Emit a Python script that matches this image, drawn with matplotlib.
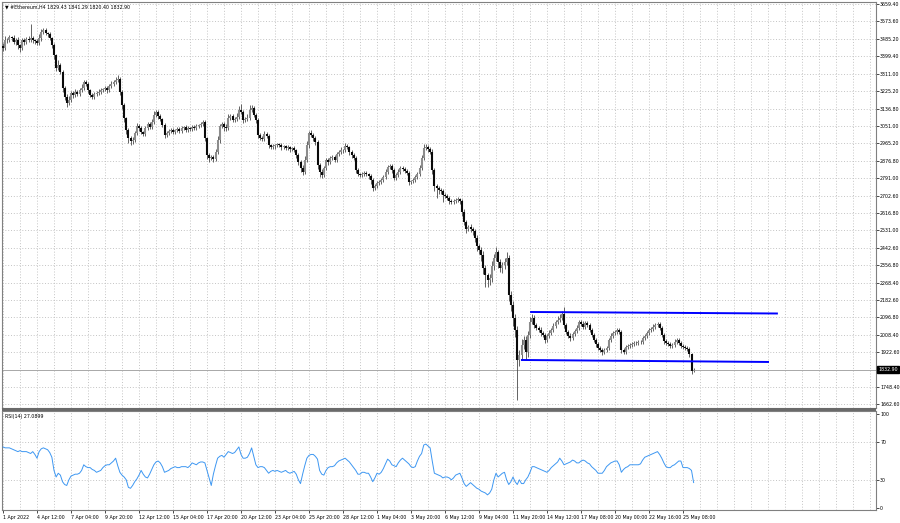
import matplotlib
matplotlib.use("Agg")
import matplotlib.pyplot as plt
from matplotlib.patches import Rectangle

# ETH H4 candles, one value per bar (open = previous close)
first_open = 3450.0
close = [
    3439, 3479, 3479, 3494, 3489, 3469, 3479, 3454, 3439, 3479,
    3469, 3484, 3479, 3489, 3479, 3474, 3464, 3489, 3519, 3529,
    3514, 3509, 3489, 3454, 3404, 3340, 3355, 3320, 3240, 3195,
    3165, 3180, 3215, 3205, 3220, 3210, 3230, 3240, 3270, 3260,
    3230, 3205, 3195, 3210, 3215, 3220, 3230, 3235, 3240, 3230,
    3250, 3260, 3270, 3280, 3285, 3220, 3155, 3090, 3030, 2990,
    2975, 2980, 3015, 3050, 3040, 3020, 3010, 3040, 3060, 3045,
    3070, 3105, 3120, 3100, 3085, 3055, 3005, 3015, 3025, 3030,
    3020, 3030, 3035, 3025, 3040, 3045, 3030, 3040, 3035, 3045,
    3040, 3050, 3055, 3060, 3070, 2990, 2905, 2891, 2896, 2886,
    2920, 2980, 3050, 3060, 3045, 3040, 3090, 3100, 3080, 3085,
    3095, 3130, 3120, 3080, 3085, 3090, 3130, 3140, 3105, 3080,
    3005, 2990, 2985, 3010, 3000, 2955, 2945, 2950, 2955, 2960,
    2955, 2945, 2950, 2940, 2945, 2935, 2940, 2930, 2905, 2870,
    2840, 2820, 2880, 2955, 3015, 3005, 2990, 2970, 2856, 2821,
    2806, 2841, 2881, 2871, 2891, 2896, 2881, 2911, 2920, 2930,
    2930, 2950, 2945, 2920, 2905, 2891, 2831, 2811, 2806, 2811,
    2816, 2811, 2801, 2781, 2741, 2751, 2766, 2771, 2781, 2796,
    2821, 2846, 2851, 2831, 2791, 2806, 2821, 2841, 2836, 2826,
    2816, 2771, 2776, 2781, 2796, 2811, 2841, 2891, 2940, 2945,
    2935, 2920, 2831, 2751, 2741, 2731, 2726, 2706, 2701, 2691,
    2676, 2671, 2676, 2681, 2686, 2676, 2621, 2571, 2536, 2546,
    2536, 2526, 2491, 2451, 2431, 2406, 2342, 2307, 2282, 2292,
    2352, 2392, 2421, 2372, 2342, 2357, 2372, 2392, 2207, 2157,
    2092, 2032, 1883, 1908, 1958, 1982, 1923, 2007, 2072, 2092,
    2057, 2042, 2032, 2017, 2007, 1982, 2002, 2017, 2032, 2052,
    2072, 2082, 2092, 2112, 2057, 2022, 2002, 1992, 2012, 2027,
    2042, 2072, 2062, 2047, 2067, 2057, 2032, 2007, 1982, 1962,
    1942, 1932, 1923, 1932, 1942, 1982, 2002, 2017, 2022, 2032,
    2022, 1932, 1922, 1947, 1952, 1957, 1962, 1967, 1967, 1972,
    1972, 1992, 2002, 2017, 2032, 2037, 2047, 2057, 2062, 2042,
    2007, 1977, 1967, 1962, 1952, 1957, 1972, 1982, 1967, 1952,
    1947, 1942, 1937, 1910, 1829.43, 1832.90,
]
upper_wick = [
    15, 20, 10, 12, 8, 18, 10, 14, 6, 12,
    10, 9, 15, 70, 12, 8, 10, 20, 14, 10,
    12, 8, 10, 6, 12, 8, 25, 10, 8, 12,
    15, 20, 10, 12, 14, 8, 10, 20, 12, 10,
    8, 6, 12, 10, 8, 14, 10, 6, 12, 8,
    10, 14, 10, 16, 20, 8, 12, 10, 6, 8,
    10, 14, 12, 16, 8, 10, 6, 12, 10, 8,
    14, 18, 12, 8, 10, 6, 8, 12, 10, 8,
    10, 6, 12, 8, 10, 6, 8, 10, 6, 8,
    10, 8, 6, 12, 10, 8, 6, 10, 12, 8,
    14, 18, 12, 10, 8, 16, 20, 12, 10, 8,
    18, 22, 30, 10, 8, 20, 25, 15, 10, 8,
    10, 12, 8, 14, 10, 8, 6, 10, 8, 6,
    8, 10, 6, 8, 10, 6, 8, 10, 8, 12,
    10, 14, 20, 18, 12, 14, 10, 8, 12, 10,
    14, 12, 10, 8, 12, 10, 8, 12, 10, 14,
    8, 16, 10, 8, 10, 12, 8, 10, 6, 8,
    10, 8, 6, 10, 12, 8, 10, 8, 12, 10,
    14, 12, 10, 8, 10, 12, 14, 10, 8, 10,
    8, 10, 6, 8, 10, 12, 16, 14, 20, 18,
    12, 10, 14, 10, 8, 12, 10, 8, 12, 10,
    8, 10, 12, 8, 10, 6, 10, 14, 12, 10,
    16, 12, 10, 14, 12, 16, 20, 14, 12, 18,
    22, 20, 25, 12, 14, 16, 20, 30, 15, 20,
    18, 22, 20, 25, 30, 20, 22, 18, 25, 20,
    15, 12, 10, 14, 12, 10, 12, 14, 10, 15,
    12, 18, 20, 15, 35, 12, 10, 14, 12, 10,
    15, 12, 10, 14, 12, 10, 8, 10, 12, 8,
    10, 12, 8, 10, 12, 10, 14, 10, 8, 12,
    10, 8, 12, 10, 8, 10, 8, 10, 12, 8,
    10, 12, 10, 8, 12, 10, 14, 10, 12, 8,
    10, 12, 10, 8, 12, 10, 14, 10, 8, 10,
    12, 10, 8, 10, 8, 8.39,
]
lower_wick = [
    12, 10, 15, 8, 14, 10, 12, 18, 20, 8,
    12, 10, 8, 10, 14, 12, 10, 8, 12, 10,
    8, 14, 10, 12, 18, 15, 10, 12, 20, 15,
    18, 12, 10, 14, 8, 12, 10, 8, 12, 10,
    14, 12, 10, 8, 12, 10, 8, 12, 10, 14,
    8, 10, 12, 8, 10, 15, 20, 18, 22, 25,
    20, 15, 10, 12, 14, 10, 12, 8, 10, 12,
    8, 10, 12, 14, 10, 12, 15, 10, 8, 12,
    10, 8, 12, 10, 8, 10, 12, 8, 10, 8,
    12, 8, 10, 8, 12, 15, 18, 20, 12, 15,
    10, 8, 12, 10, 20, 14, 10, 8, 12, 10,
    8, 10, 12, 14, 10, 12, 8, 10, 12, 14,
    15, 12, 10, 8, 12, 14, 10, 8, 12, 10,
    8, 12, 10, 8, 10, 12, 8, 10, 14, 15,
    18, 12, 10, 8, 12, 10, 14, 12, 20, 25,
    15, 10, 12, 14, 10, 8, 12, 10, 8, 10,
    12, 8, 10, 12, 14, 10, 15, 12, 10, 8,
    10, 12, 14, 18, 15, 12, 10, 8, 12, 10,
    8, 10, 12, 14, 10, 8, 10, 12, 8, 10,
    12, 14, 10, 8, 10, 8, 10, 12, 10, 8,
    12, 10, 20, 25, 50, 18, 15, 35, 12, 10,
    14, 12, 10, 8, 12, 14, 18, 15, 20, 12,
    15, 18, 20, 25, 22, 30, 28, 60, 35, 25,
    20, 18, 15, 30, 20, 25, 18, 15, 30, 30,
    40, 35, 200, 30, 25, 20, 40, 25, 15, 12,
    14, 12, 10, 15, 12, 14, 10, 12, 10, 8,
    10, 12, 8, 10, 14, 12, 10, 15, 12, 10,
    8, 10, 12, 10, 8, 12, 10, 8, 12, 14,
    12, 10, 15, 12, 10, 8, 10, 12, 10, 8,
    10, 14, 12, 10, 8, 10, 12, 10, 8, 10,
    8, 10, 12, 10, 8, 10, 12, 8, 10, 12,
    10, 14, 12, 10, 8, 10, 12, 10, 12, 10,
    10, 12, 10, 14, 18, 9.03,
]
rsi = [
    65, 64, 64, 64, 63, 62, 61, 60, 61, 60,
    60, 60, 59, 58, 60, 57, 53, 60, 63, 64,
    63, 62, 59, 54, 40, 33, 37, 35, 28, 25,
    24, 30, 34, 35, 36, 36, 37, 40, 46, 44,
    43, 43, 41, 40, 38, 39, 40, 43, 45, 46,
    46, 48, 50, 53, 45, 38, 35, 33, 30, 22,
    21, 24, 28, 31, 35, 40, 36, 33, 32, 36,
    41, 46, 49, 50, 48, 44, 38, 39, 40, 42,
    43, 44, 43, 43, 44, 44, 44, 43, 45, 48,
    47, 46, 48, 49, 49, 48, 40, 32, 24, 36,
    45, 53, 55, 56, 54, 57, 60, 59, 58, 59,
    62, 65, 57, 53, 53, 54, 58, 64, 55, 46,
    43, 44, 44, 43, 40, 37, 39, 40, 39, 40,
    39, 38, 39, 40, 38, 37, 38, 39, 36, 30,
    26, 36, 45, 53, 56, 57, 57, 55, 52, 40,
    36, 35, 40, 43, 44, 44, 45, 48, 50, 51,
    52, 53, 51, 49, 46, 43, 40, 36, 36, 38,
    38, 37, 37, 33, 28, 32, 37, 36, 38, 42,
    47, 52, 50, 46, 45, 44, 48, 51, 53, 51,
    49, 47, 44, 43, 44, 50, 55, 58, 67, 68,
    66, 64, 50, 37, 36, 35, 34, 32, 33, 33,
    32, 30, 32, 35, 36, 37, 32, 26, 23, 25,
    27, 25, 23, 21, 20, 18, 17, 16, 14, 16,
    20, 30, 37, 33, 35, 37, 38, 30, 25, 28,
    33, 28, 25, 30, 26, 26, 30, 33, 38, 44,
    44, 43, 42, 41, 40, 39, 38, 40, 43, 45,
    47, 49, 53, 50, 46, 47, 48, 49, 51, 50,
    48, 48, 50, 51, 50, 48, 47, 44, 42, 40,
    37, 37, 37, 40, 44, 46, 48, 49, 50, 50,
    46, 38, 41, 43, 44, 46, 46, 46, 46, 46,
    47, 51, 54, 55, 56, 57, 58, 59, 60, 57,
    53, 48, 44, 43, 43, 45, 46, 48, 50, 50,
    43, 43, 43, 42, 40, 27.0899,
]

price_levels = [3659.40, 3573.60, 3485.20, 3399.40, 3311.00, 3225.20, 3136.80,
                3051.00, 2965.20, 2876.80, 2791.00, 2702.60, 2616.80, 2531.00,
                2442.60, 2356.80, 2268.40, 2182.60, 2096.80, 2008.40, 1922.60,
                1748.40, 1662.60]
x_labels = ["1 Apr 2022", "4 Apr 12:00", "7 Apr 04:00", "9 Apr 20:00", "12 Apr 12:00",
            "15 Apr 04:00", "17 Apr 20:00", "20 Apr 12:00", "23 Apr 04:00",
            "25 Apr 20:00", "28 Apr 12:00", "1 May 04:00", "3 May 20:00",
            "6 May 12:00", "9 May 04:00", "11 May 20:00", "14 May 12:00",
            "17 May 08:00", "20 May 00:00", "22 May 16:00", "25 May 08:00"]
rsi_levels = [70, 30]
rsi_ticks = [100, 70, 30, 0]

# drawn channel lines (bar index, price)
upper_line_bars = [248.5, 364.2]
upper_line_prices = [2121.9, 2114.4]
lower_line_bars = [244.2, 360.0]
lower_line_prices = [1882.3, 1872.4]

last_price = close[-1]
title = "\u25bc #Ethereum,H4 1829.43 1841.29 1820.40 1832.90"

# ---------------------------------------------------------------
n = len(close)
opens = [first_open] + close[:-1]
highs = [max(o, c) + w for o, c, w in zip(opens, close, upper_wick)]
lows = [min(o, c) - w for o, c, w in zip(opens, close, lower_wick)]
bars = list(range(n))

W, H = 900, 523
fig = plt.figure(figsize=(9, 5.23), dpi=100)
fig.patch.set_facecolor("white")

def px_axes(left, top, right, bottom):
    return fig.add_axes([left / W, 1 - bottom / H, (right - left) / W, (bottom - top) / H])

ax = px_axes(2, 2, 876, 408)
ax2 = px_axes(2, 411, 876, 510)

bar_px = 2.125
xlim = ((2 - 3) / bar_px, (876 - 3) / bar_px)
fs = 3.4
grid_kw = dict(color="#bdbdbd", lw=0.6, ls=(0, (1.2, 2.2)), zorder=0)

# candles
up = [c >= o for o, c in zip(opens, close)]
ax.vlines(bars, lows, highs, color="#4a4a4a", lw=0.6, zorder=2)
body_col = ["#8c8c8c" if u else "#0a0a0a" for u in up]
ax.vlines(bars, [min(o, c) for o, c in zip(opens, close)],
          [max(o, c) for o, c in zip(opens, close)], colors=body_col, lw=1.5, zorder=3)

ax.plot(upper_line_bars, upper_line_prices, color="#0000ff", lw=1.4, zorder=4)
ax.plot(lower_line_bars, lower_line_prices, color="#0000ff", lw=1.4, zorder=4)
ax.axhline(last_price, color="#a8a8a8", lw=0.7, zorder=1)

ax.set_xlim(*xlim)
ax.set_ylim(1642.6, 3669.4)
ax.yaxis.tick_right()
ax.set_yticks(price_levels)
ax.set_yticklabels(["%.2f" % p for p in price_levels])
ax.tick_params(axis="y", direction="out", length=2.0, width=0.5, pad=1.0,
               labelsize=fs, colors="#000000")
ax.set_xticks(range(0, 16 * len(x_labels), 16))
ax.tick_params(axis="x", which="both", length=0, labelbottom=False)
for p in price_levels:
    ax.axhline(p, **grid_kw)
for b in range(0, 411, 8):
    ax.axvline(b, **grid_kw)

ax.text(1.0025, last_price, "%.2f" % last_price, transform=ax.get_yaxis_transform(),
        ha="left", va="center", fontsize=fs, color="white", clip_on=False,
        bbox=dict(boxstyle="square,pad=0.2", fc="black", ec="black"))
ax.text(0.004, 0.994, title, transform=ax.transAxes, ha="left", va="top",
        fontsize=fs, color="#000000")

# RSI panel
ax2.plot(bars, rsi, color="#3d97f2", lw=0.7, zorder=3)
ax2.set_xlim(*xlim)
ax2.set_ylim(-2.1, 103.2)
for lv in rsi_levels:
    ax2.axhline(lv, **grid_kw)
for b in range(0, 411, 8):
    ax2.axvline(b, **grid_kw)
ax2.yaxis.tick_right()
ax2.set_yticks(rsi_ticks)
ax2.set_yticklabels([str(t) for t in rsi_ticks])
ax2.tick_params(axis="y", direction="out", length=2.0, width=0.5, pad=1.0,
                labelsize=fs, colors="#000000")
ax2.set_xticks(range(0, 16 * len(x_labels), 16))
ax2.set_xticklabels(x_labels)
ax2.tick_params(axis="x", direction="out", length=2.5, width=0.5, pad=1.0,
                labelsize=fs, colors="#000000")
for lab in ax2.get_xticklabels():
    lab.set_ha("left")
ax2.text(0.004, 0.97, "RSI(14) 27.0899", transform=ax2.transAxes, ha="left",
         va="top", fontsize=fs, color="#000000")

for a in (ax, ax2):
    for s in a.spines.values():
        s.set_color("#808080")
        s.set_linewidth(0.8)
    a.set_facecolor("white")

# separator band between panels
fig.patches.append(Rectangle((2 / W, 1 - 411 / H), 874 / W, 3 / H,
                             transform=fig.transFigure, fc="#6a6a6a", ec="none"))

fig.savefig("out.png", dpi=100, facecolor="white")
